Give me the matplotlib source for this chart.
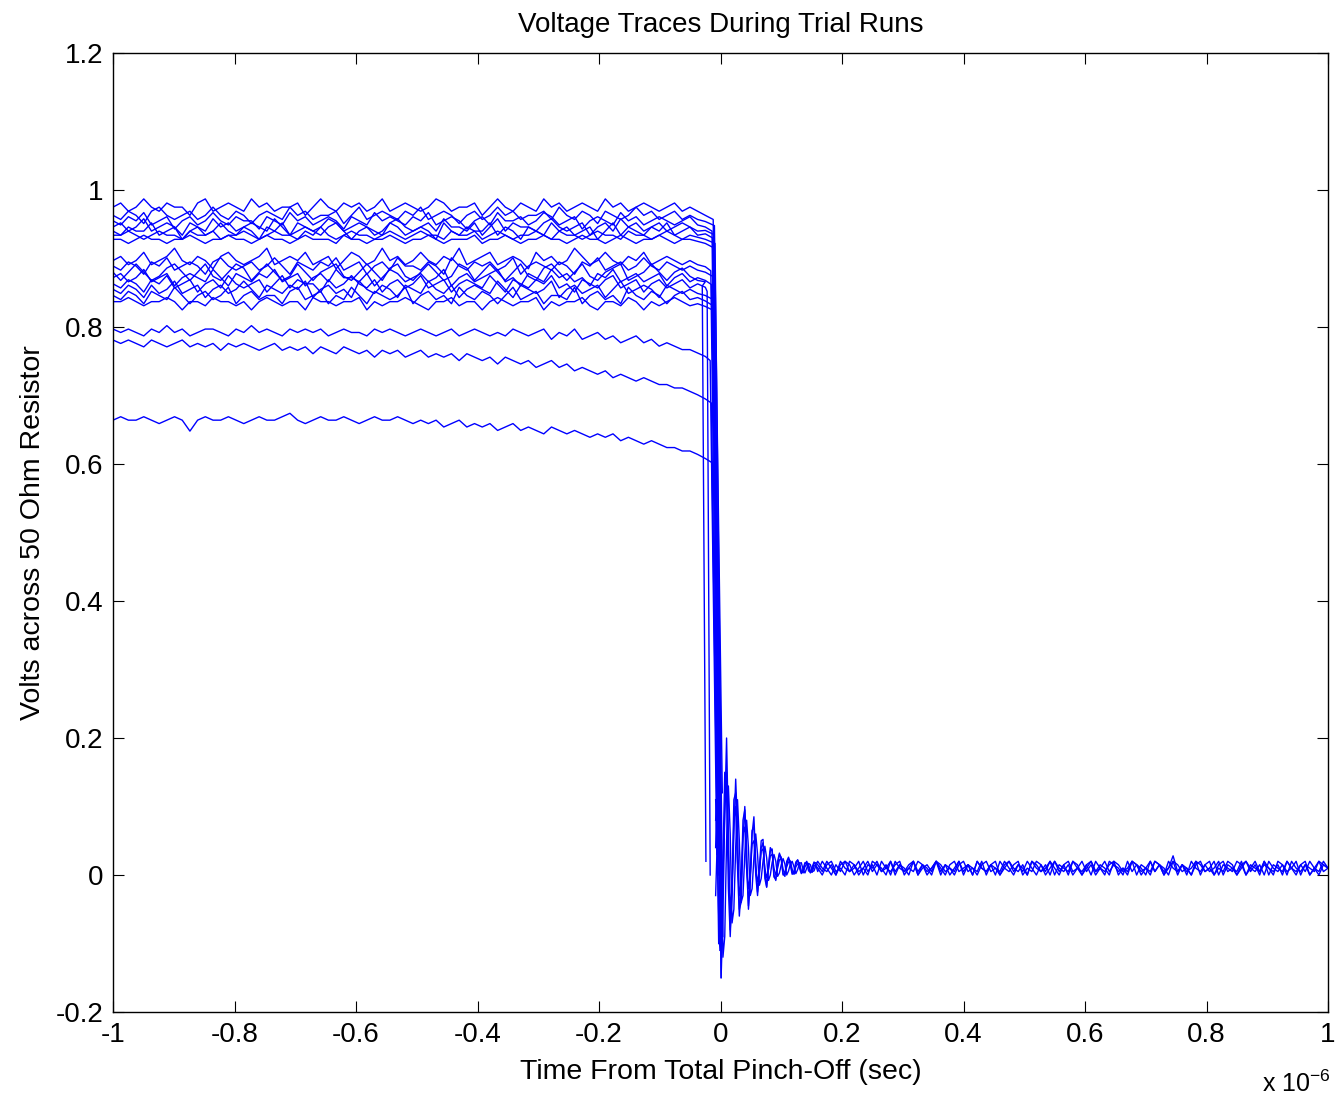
import numpy as np
import matplotlib
matplotlib.use("Agg")
import matplotlib.pyplot as plt

plt.rcParams['font.family'] = ['Liberation Sans', 'DejaVu Sans']

# pre-drop plateaus in mV, evenly sampled from -1.0 us to -0.025 us
top_traces = [
    [975, 981, 969, 975, 987, 975, 969, 981, 975, 975, 963, 981, 987, 969, 975, 981, 975, 969, 987, 975,
     981, 969, 975, 975, 981, 963, 975, 987, 975, 969, 981, 975, 981, 969, 975, 987, 969, 975, 981, 975,
     969, 975, 987, 981, 969, 975, 975, 981, 963, 975, 987, 975, 969, 981, 975, 969, 987, 975, 981, 969,
     975, 981, 975, 969, 987, 975, 981, 969, 975, 981, 975, 969, 975, 981, 969, 975, 969, 963],
    [963, 957, 969, 963, 951, 969, 975, 963, 957, 963, 969, 957, 963, 975, 963, 957, 969, 963, 951, 963,
     969, 963, 957, 975, 963, 969, 957, 963, 963, 969, 951, 963, 975, 957, 963, 969, 963, 957, 969, 963,
     975, 957, 963, 969, 963, 951, 963, 969, 957, 963, 975, 963, 969, 957, 963, 963, 969, 957, 975, 963,
     957, 969, 963, 951, 969, 963, 957, 963, 975, 963, 969, 957, 963, 969, 957, 963, 957, 954],
    [955, 949, 961, 955, 967, 949, 955, 961, 943, 955, 961, 949, 955, 967, 955, 949, 961, 955, 955, 943,
     961, 955, 949, 967, 955, 961, 949, 955, 961, 955, 943, 961, 955, 949, 967, 955, 961, 955, 949, 961,
     955, 967, 949, 955, 961, 955, 943, 955, 961, 949, 967, 955, 955, 961, 949, 955, 967, 961, 949, 955,
     961, 943, 955, 961, 955, 949, 967, 955, 961, 949, 955, 961, 955, 949, 955, 961, 949, 946],
    [946, 952, 940, 946, 958, 940, 946, 952, 946, 934, 952, 946, 940, 958, 946, 952, 940, 946, 952, 946,
     940, 958, 946, 934, 952, 946, 940, 946, 958, 952, 940, 946, 952, 946, 940, 934, 952, 958, 946, 940,
     946, 952, 940, 958, 946, 946, 940, 952, 934, 946, 958, 940, 952, 946, 946, 940, 952, 958, 946, 940,
     946, 952, 934, 946, 952, 940, 958, 946, 952, 940, 946, 952, 940, 946, 952, 946, 940, 941],
    [940, 934, 946, 940, 940, 952, 934, 940, 946, 928, 940, 946, 934, 940, 952, 940, 934, 946, 940, 928,
     946, 940, 952, 934, 940, 946, 940, 934, 946, 952, 940, 928, 940, 946, 934, 940, 952, 946, 934, 940,
     946, 940, 928, 952, 940, 934, 946, 940, 940, 952, 934, 946, 940, 928, 946, 940, 934, 952, 940, 946,
     934, 940, 946, 928, 940, 952, 934, 946, 940, 934, 946, 940, 952, 934, 940, 946, 934, 936],
    [934, 934, 940, 934, 928, 934, 940, 934, 934, 928, 940, 934, 934, 940, 928, 934, 934, 940, 934, 928,
     934, 940, 934, 934, 928, 940, 934, 946, 934, 928, 934, 940, 934, 934, 928, 934, 940, 934, 928, 934,
     940, 934, 934, 928, 940, 934, 934, 940, 928, 934, 940, 934, 928, 934, 934, 940, 934, 928, 940, 934,
     934, 928, 934, 940, 934, 934, 928, 940, 934, 934, 928, 934, 940, 934, 928, 934, 931, 928],
    [928, 928, 922, 928, 934, 928, 928, 922, 928, 928, 934, 928, 922, 928, 928, 934, 928, 928, 922, 928,
     934, 928, 928, 922, 928, 934, 928, 928, 928, 922, 934, 928, 928, 922, 928, 928, 934, 928, 922, 928,
     928, 934, 928, 922, 928, 928, 928, 934, 922, 928, 928, 934, 928, 922, 928, 928, 934, 928, 928, 922,
     928, 934, 928, 928, 922, 928, 934, 928, 922, 928, 928, 934, 928, 922, 928, 928, 925, 922],
]
mid_traces = [
    [897, 903, 891, 897, 909, 891, 897, 903, 915, 897, 891, 903, 897, 885, 903, 909, 897, 891, 897, 903,
     915, 891, 897, 903, 897, 909, 891, 897, 903, 885, 897, 909, 903, 891, 897, 915, 897, 903, 891, 897,
     909, 897, 891, 903, 897, 915, 891, 897, 903, 909, 891, 897, 903, 897, 885, 909, 897, 903, 891, 897,
     915, 903, 891, 897, 909, 897, 891, 903, 897, 909, 891, 897, 903, 897, 891, 897, 891, 888],
    [889, 883, 895, 889, 877, 895, 889, 901, 883, 889, 895, 889, 877, 895, 901, 889, 883, 889, 895, 883,
     889, 901, 889, 877, 895, 889, 883, 895, 889, 901, 883, 889, 895, 877, 889, 895, 883, 901, 889, 889,
     883, 895, 889, 877, 901, 889, 883, 895, 889, 895, 883, 889, 901, 877, 889, 895, 889, 883, 895, 889,
     877, 895, 889, 901, 883, 889, 895, 883, 889, 901, 889, 883, 895, 889, 883, 889, 883, 880],
    [880, 868, 880, 892, 880, 868, 874, 886, 892, 880, 868, 880, 892, 874, 868, 880, 892, 886, 868, 880,
     892, 880, 868, 874, 892, 880, 868, 880, 886, 892, 874, 868, 880, 892, 880, 868, 886, 892, 874, 868,
     880, 892, 880, 868, 874, 892, 886, 868, 880, 892, 880, 868, 880, 892, 874, 868, 886, 892, 880, 868,
     880, 892, 874, 868, 880, 886, 892, 868, 874, 880, 892, 880, 868, 880, 886, 874, 868, 866],
    [872, 878, 866, 872, 884, 866, 872, 878, 860, 872, 878, 872, 866, 884, 872, 860, 878, 872, 866, 878,
     872, 884, 866, 872, 878, 860, 872, 878, 866, 884, 872, 872, 866, 878, 860, 872, 884, 878, 866, 872,
     878, 866, 872, 884, 860, 872, 878, 866, 872, 878, 884, 866, 872, 860, 878, 872, 866, 884, 872, 878,
     866, 872, 860, 878, 872, 884, 866, 872, 878, 866, 872, 878, 860, 872, 878, 866, 872, 868],
    [863, 857, 869, 863, 851, 869, 863, 875, 857, 863, 869, 851, 863, 869, 857, 875, 863, 857, 863, 869,
     851, 863, 875, 857, 869, 863, 863, 851, 869, 857, 863, 875, 863, 857, 869, 851, 863, 869, 857, 863,
     875, 857, 863, 869, 851, 863, 869, 863, 857, 875, 863, 851, 869, 863, 857, 869, 863, 875, 857, 863,
     851, 869, 863, 857, 869, 875, 857, 863, 869, 851, 863, 869, 857, 863, 869, 857, 863, 858],
    [855, 849, 861, 855, 843, 861, 849, 855, 867, 849, 855, 861, 843, 855, 861, 849, 855, 867, 855, 843,
     861, 855, 849, 861, 855, 867, 843, 855, 861, 849, 855, 843, 867, 855, 849, 861, 855, 843, 861, 855,
     849, 867, 855, 849, 861, 843, 855, 861, 855, 849, 867, 855, 843, 861, 855, 849, 855, 867, 843, 855,
     861, 849, 855, 861, 843, 855, 867, 849, 855, 861, 855, 843, 861, 855, 849, 855, 849, 846],
    [846, 840, 852, 846, 834, 852, 846, 840, 858, 846, 834, 846, 852, 840, 846, 858, 834, 846, 852, 840,
     846, 846, 834, 852, 858, 840, 846, 852, 834, 846, 840, 858, 846, 834, 852, 846, 840, 846, 858, 834,
     846, 852, 840, 846, 834, 858, 846, 840, 852, 846, 834, 846, 858, 840, 846, 852, 834, 846, 846, 840,
     858, 834, 846, 852, 840, 846, 834, 858, 846, 840, 852, 846, 834, 846, 852, 840, 843, 838],
    [837, 837, 843, 837, 831, 837, 837, 843, 837, 825, 837, 837, 831, 843, 837, 837, 831, 837, 825, 837,
     843, 837, 831, 837, 837, 825, 843, 837, 837, 831, 837, 837, 843, 825, 837, 831, 837, 837, 843, 837,
     831, 825, 837, 837, 843, 831, 837, 837, 825, 837, 843, 837, 831, 837, 837, 843, 825, 837, 831, 837,
     837, 843, 831, 825, 837, 837, 831, 843, 837, 825, 837, 831, 837, 843, 837, 831, 834, 830],
]
low_traces = [
    [797, 792, 797, 792, 787, 797, 792, 802, 792, 797, 787, 792, 797, 797, 792, 787, 797, 792, 802, 792,
     797, 792, 787, 797, 792, 797, 792, 797, 787, 792, 797, 792, 792, 787, 797, 792, 797, 792, 787, 792,
     797, 792, 787, 792, 797, 787, 792, 797, 792, 787, 792, 787, 797, 792, 787, 792, 797, 782, 792, 787,
     797, 782, 787, 792, 782, 787, 777, 782, 787, 777, 782, 772, 777, 772, 767, 767, 762, 757],
    [781, 776, 781, 776, 771, 781, 776, 771, 776, 781, 771, 776, 771, 776, 766, 776, 771, 776, 771, 766,
     771, 776, 766, 771, 766, 771, 761, 771, 766, 761, 771, 766, 761, 766, 756, 766, 761, 766, 756, 761,
     766, 756, 761, 756, 761, 751, 761, 756, 751, 756, 746, 756, 751, 746, 751, 741, 746, 751, 741, 746,
     736, 741, 736, 731, 736, 726, 731, 726, 721, 726, 721, 716, 716, 711, 711, 706, 701, 695],
    [664, 669, 664, 664, 669, 664, 659, 664, 669, 664, 648, 664, 669, 664, 664, 669, 664, 659, 664, 669,
     664, 664, 669, 674, 664, 659, 664, 669, 664, 664, 669, 664, 659, 664, 669, 664, 664, 669, 664, 659,
     664, 659, 664, 654, 659, 664, 654, 659, 654, 659, 649, 654, 659, 649, 654, 649, 644, 654, 649, 644,
     649, 644, 639, 644, 639, 644, 634, 639, 634, 629, 634, 629, 624, 624, 619, 619, 614, 608],
]
pre_traces = top_traces + mid_traces + low_traces

# drop: last plateau time (us), time reaching bottom (us), bottom value (mV)
knee_t = [-0.012, -0.010, -0.014, -0.011, -0.013, -0.009, -0.012,
          -0.016, -0.013, -0.030, -0.015, -0.022, -0.012, -0.014, -0.011,
          -0.017, -0.015, -0.014]
bottom_t = [0.001, 0.003, -0.002, 0.002, 0.000, 0.004, 0.001,
            -0.004, -0.001, -0.024, 0.000, -0.017, 0.002, -0.003, 0.001,
            -0.006, -0.004, -0.003]
bottom_v = [-150, 120, 20, -60, 190, -90, 80,
            60, -110, 20, 150, 0, -40, 100, -70,
            30, 0, -100]

# ringing after pinch-off in mV, every 0.003 us from -0.008 us
ring_traces = [
    [40, 150, 60, -150, -60, 90, 200, 60, -80, -30, 60, 140, 70, -50, -40, 50, 100, 40, -50, -10,
     60, 85, 20, -25, 0, 40, 47, 5, -17, 10, 35, 38, 0, -8, 15, 30, 26, 2, -2, 16,
     24, 20, 3, 2, 15, 22, 16, 4, 5, 16, 20, 12, 3, 8, 17, 18],
    [110, 30, -100, -110, 20, 150, 120, -20, -90, -20, 110, 120, 10, -60, -20, 80, 95, 10, -45, 0,
     65, 70, 0, -30, 10, 50, 52, -5, -18, 15, 40, 35, -3, -6, 20, 32, 22, 0, 2, 20,
     26, 14, 1, 6, 19, 22, 10, 2, 9, 18, 17, 6, 4, 12, 19, 14],
    [-30, 60, 170, 60, -120, -90, 50, 130, 60, -70, -50, 40, 110, 50, -40, -30, 30, 80, 40, -30,
     -20, 25, 60, 30, -15, -5, 20, 42, 25, -8, 0, 18, 30, 20, -2, 3, 15, 24, 16, 0,
     6, 16, 20, 12, 2, 8, 17, 18, 8, 3, 10, 17, 15, 5, 6, 14],
    [80, 120, 10, -80, 0, 90, 150, 30, -50, -20, 80, 100, 20, -30, -10, 60, 70, 10, -20, 0,
     45, 50, 8, -10, 5, 35, 38, 10, -4, 8, 28, 30, 10, 0, 10, 22, 24, 8, 2, 12,
     19, 20, 8, 1, 12, 16, 18, 5, 3, 12, 16, 15, 5, 4, 13, 15],
]
# settled tail in mV, evenly sampled from 0.16 us to 1.0 us
tail_traces = [
    [15, 5, 20, 10, 0, 15, 20, 5, 10, 20, 0, 15, 10, 20, 5, 15, 0, 20, 10, 5, 15, 20, 0, 10, 15, 5, 20, 10, 0, 15,
     20, 5, 10, 15, 0, 20, 10, 5, 15, 20, 0, 10, 20, 5, 15, 10, 0, 20, 15, 5, 10, 20, 0, 15, 10, 5, 20, 15, 0, 10,
     20, 5, 15, 10, 0, 20, 15, 5, 10, 20, 0, 15, 10, 5, 20, 15, 0, 10, 28, 5, 15, 10, 0, 20, 15, 5, 10, 20, 0, 15,
     10, 5, 20, 15, 0, 10, 20, 5, 15, 10, 0, 20, 15, 5, 10, 20, 0, 15, 10, 5, 20, 15, 10],
    [5, 20, 10, 0, 15, 5, 20, 15, 0, 10, 20, 5, 15, 0, 20, 10, 5, 15, 20, 0, 10, 5, 20, 15, 0, 10, 20, 5, 15, 0,
     10, 20, 5, 15, 0, 20, 10, 5, 15, 0, 20, 10, 5, 15, 20, 0, 10, 5, 20, 15, 0, 10, 20, 5, 15, 0, 20, 10, 5, 15,
     0, 20, 10, 5, 15, 20, 0, 10, 5, 20, 15, 0, 10, 20, 5, 15, 0, 20, 10, 5, 15, 0, 20, 10, 5, 15, 20, 0, 10, 5,
     20, 15, 0, 10, 20, 5, 15, 0, 20, 10, 5, 15, 0, 20, 10, 5, 15, 20, 0, 10, 5, 20, 10],
    [10, 0, 15, 20, 5, 10, 0, 20, 15, 5, 10, 0, 20, 15, 5, 10, 20, 0, 15, 5, 10, 20, 0, 15, 5, 10, 20, 0, 15, 10,
     5, 20, 0, 15, 10, 5, 20, 0, 15, 10, 5, 20, 10, 0, 15, 5, 20, 10, 0, 15, 5, 20, 10, 0, 15, 20, 5, 10, 0, 15,
     20, 5, 10, 0, 20, 15, 5, 10, 0, 20, 15, 5, 10, 0, 20, 15, 5, 10, 20, 0, 15, 5, 10, 20, 0, 15, 5, 10, 20, 0,
     15, 10, 5, 20, 0, 15, 10, 5, 20, 0, 15, 10, 5, 20, 10, 0, 15, 5, 20, 10, 0, 15, 10],
    [20, 10, 5, 15, 0, 20, 10, 5, 15, 0, 10, 20, 5, 15, 10, 0, 20, 5, 15, 10, 0, 20, 5, 15, 10, 0, 20, 15, 5, 10,
     0, 15, 20, 5, 10, 0, 15, 20, 5, 10, 0, 15, 20, 10, 5, 15, 0, 20, 10, 5, 15, 0, 20, 10, 5, 15, 0, 10, 20, 5,
     15, 0, 10, 20, 5, 15, 10, 0, 20, 5, 15, 10, 0, 20, 5, 15, 10, 0, 20, 15, 5, 10, 0, 15, 20, 5, 10, 0, 15, 20,
     5, 10, 0, 15, 20, 10, 5, 15, 0, 20, 10, 5, 15, 0, 20, 10, 5, 15, 0, 10, 20, 5, 10],
]

x_ticks = [-1, -0.8, -0.6, -0.4, -0.2, 0, 0.2, 0.4, 0.6, 0.8, 1]
x_labels = ['-1', '-0.8', '-0.6', '-0.4', '-0.2', '0', '0.2', '0.4', '0.6', '0.8', '1']
y_ticks = [-0.2, 0, 0.2, 0.4, 0.6, 0.8, 1, 1.2]
y_labels = ['-0.2', '0', '0.2', '0.4', '0.6', '0.8', '1', '1.2']

blue = '#0000ff'
lw = 1.0

fig = plt.figure(figsize=(13.35, 10.97), dpi=100)
ax = fig.add_axes([113 / 1335, 1 - 1012 / 1097, (1328 - 113) / 1335, (1012 - 53) / 1097])

for i, vals in enumerate(pre_traces):
    t = np.linspace(-1.0, -0.025, len(vals))
    t = np.append(t, [knee_t[i], bottom_t[i]])
    v = np.append(np.array(vals), [vals[-1] - 6, bottom_v[i]]) / 1000.0
    ax.plot(t, v, color=blue, lw=lw)

for ring, tail in zip(ring_traces, tail_traces):
    t = np.concatenate([np.linspace(-0.008, -0.008 + 0.003 * (len(ring) - 1), len(ring)),
                        np.linspace(0.16, 1.0, len(tail))])
    v = np.array(ring + tail) / 1000.0
    ax.plot(t, v, color=blue, lw=lw)

ax.set_xlim(-1, 1)
ax.set_ylim(-0.2, 1.2)
ax.set_xticks(x_ticks)
ax.set_xticklabels(x_labels)
ax.set_yticks(y_ticks)
ax.set_yticklabels(y_labels)
ax.tick_params(direction='in', length=8, width=0.8, top=True, right=True,
               labelsize=20, pad=7)
for s in ax.spines.values():
    s.set_linewidth(1.0)

ax.set_title('Voltage Traces During Trial Runs', fontsize=20, pad=15)
ax.set_xlabel('Time From Total Pinch-Off (sec)', fontsize=20.5, labelpad=8)
ax.set_ylabel('Volts across 50 Ohm Resistor', fontsize=20.5, labelpad=7)
fig.text(1262 / 1335, 1 - 1092 / 1097, r'x 10$^{\mathregular{-6}}$', fontsize=18)

fig.savefig('out.png', dpi=100)
